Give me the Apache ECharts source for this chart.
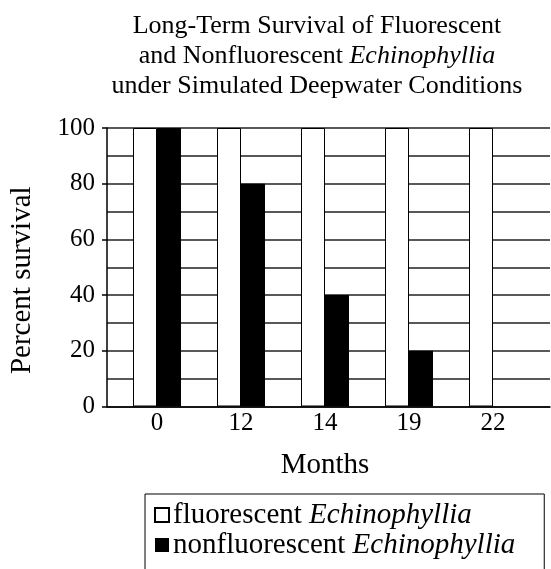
<!DOCTYPE html>
<html>
<head>
<meta charset="utf-8">
<script src="https://cdn.jsdelivr.net/npm/echarts@6/dist/echarts.min.js"></script>
<style>
  html, body { margin: 0; padding: 0; background: #fff; }
  #chart { width: 551px; height: 569px; }
</style>
</head>
<body>
<div id="chart"></div>
<script>
// data
var months = ['0', '12', '14', '19', '22'];
var fluorescent = [100, 100, 100, 100, 100];
var nonfluorescent = [100, 80, 40, 20, 0];

var serif = 'Liberation Serif';

var myChart = echarts.init(document.getElementById('chart'));

var option = {
  animation: false,
  backgroundColor: '#fff',
  title: {
    text: 'Long-Term Survival of Fluorescent\nand Nonfluorescent {i|Echinophyllia}\nunder Simulated Deepwater Conditions',
    left: 312,
    top: 6,
    textAlign: 'center',
    textStyle: {
      fontFamily: serif,
      fontSize: 26,
      fontWeight: 'normal',
      lineHeight: 30,
      color: '#000',
      rich: {
        i: { fontFamily: serif, fontSize: 26, fontStyle: 'italic', lineHeight: 30, color: '#000' }
      }
    }
  },
  legend: {
    orient: 'vertical',
    left: 145,
    top: 494,
    width: 390,
    height: 90,
    icon: 'rect',
    itemWidth: 14,
    itemHeight: 14,
    itemGap: 0,
    borderColor: '#000',
    borderWidth: 1,
    padding: [6, 29, 40, 9],
    data: ['fluorescent Echinophyllia', 'nonfluorescent Echinophyllia'],
    formatter: function (name) {
      return name.replace('Echinophyllia', '{i|Echinophyllia}');
    },
    textStyle: {
      fontFamily: serif,
      fontSize: 29,
      lineHeight: 30,
      color: '#000',
      padding: [0, 0, 0, -1],
      rich: {
        i: { fontFamily: serif, fontSize: 29, fontStyle: 'italic', lineHeight: 30, color: '#000' }
      }
    }
  },
  grid: [
    // frame with axis lines and gridlines
    { left: 106, right: 1, top: 128, bottom: 162.5 },
    // bars
    { left: 115, right: 16, top: 128, bottom: 162.5 }
  ],
  xAxis: [
    {
      gridIndex: 0,
      type: 'value',
      min: 0,
      max: 1,
      axisLine: { show: true, lineStyle: { color: '#000', width: 1.5 } },
      axisTick: { show: false },
      axisLabel: { show: false },
      splitLine: { show: false }
    },
    {
      gridIndex: 1,
      type: 'category',
      data: months,
      axisLine: { show: false },
      axisTick: { show: false },
      axisLabel: { fontFamily: serif, fontSize: 25, color: '#000', margin: 4 },
      name: 'Months',
      nameLocation: 'middle',
      nameGap: 44,
      nameTextStyle: { fontFamily: serif, fontSize: 29, color: '#000' }
    }
  ],
  yAxis: [
    {
      gridIndex: 0,
      type: 'value',
      min: 0,
      max: 100,
      interval: 20,
      axisLine: { show: true, lineStyle: { color: '#000', width: 1.5 } },
      axisTick: { show: true, inside: false, length: 5, lineStyle: { color: '#000', width: 1.5 } },
      axisLabel: { fontFamily: serif, fontSize: 25, color: '#000', margin: 12 },
      splitLine: { show: true, lineStyle: { color: '#222', width: 1.5 } },
      minorTick: { show: false, splitNumber: 2 },
      minorSplitLine: { show: true, lineStyle: { color: '#222', width: 1.5 } },
      name: 'Percent survival',
      nameLocation: 'middle',
      nameRotate: 90,
      nameGap: 70,
      nameTextStyle: { fontFamily: serif, fontSize: 29, color: '#000', padding: [0, 26, 0, 0] }
    },
    {
      gridIndex: 1,
      type: 'value',
      min: 0,
      max: 100,
      show: false
    }
  ],
  series: [
    {
      name: 'fluorescent Echinophyllia',
      type: 'bar',
      xAxisIndex: 1,
      yAxisIndex: 1,
      barWidth: 24,
      barGap: '0%',
      itemStyle: { color: '#fff', borderColor: '#000', borderWidth: 1 },
      data: fluorescent
    },
    {
      name: 'nonfluorescent Echinophyllia',
      type: 'bar',
      xAxisIndex: 1,
      yAxisIndex: 1,
      barWidth: 24,
      barGap: '0%',
      itemStyle: { color: '#000' },
      data: nonfluorescent
    }
  ]
};

myChart.setOption(option);
</script>
</body>
</html>
